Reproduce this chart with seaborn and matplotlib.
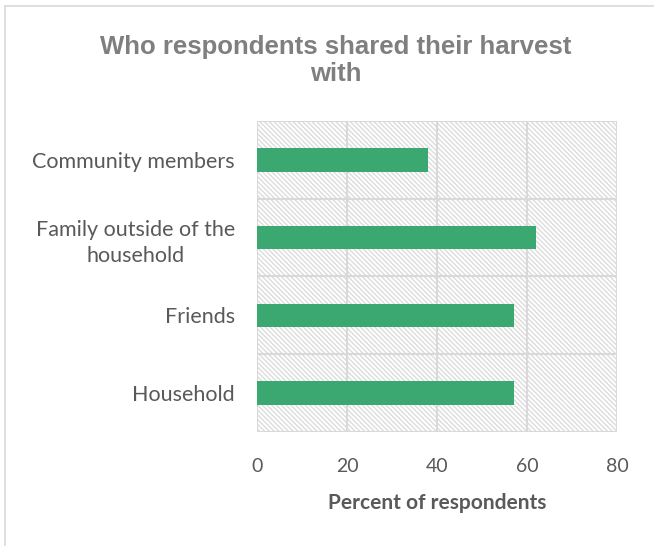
import matplotlib
matplotlib.use("Agg")
import matplotlib.pyplot as plt
from matplotlib.patches import Rectangle
import seaborn as sns
import pandas as pd

# datos
categorias = ["Community members", "Family outside of the\nhousehold", "Friends", "Household"]
porcentajes = [38, 62, 57, 57]
ticks_x = [0, 20, 40, 60, 80]

df = pd.DataFrame({"categoria": categorias, "porcentaje": porcentajes})

sns.set_style("white")
plt.rcParams['font.family'] = ['Lato', 'DejaVu Sans']
plt.rcParams['hatch.linewidth'] = 1.0

color_barra = '#3aa870'
color_texto = '#595959'
color_grid = '#d9d9d9'

fig = plt.figure(figsize=(6.54, 5.46), dpi=100)
ax = fig.add_axes([0.393, 0.2088, 0.5505, 0.5696])

# fondo rayado
fondo = Rectangle((0, 0), 1, 1, transform=ax.transAxes, facecolor='white',
                  edgecolor='#dcdcdc', hatch='\\' * 7, linewidth=0, zorder=0)
ax.add_patch(fondo)

sns.barplot(data=df, x='porcentaje', y='categoria', orient='h', color=color_barra,
            width=0.3, saturation=1, linewidth=0, ax=ax, zorder=3)

ax.set_xlim(0, 80)
ax.set_ylim(3.5, -0.5)
ax.set_xticks(ticks_x)
ax.set_yticks(range(len(categorias)))
ax.set_yticklabels(categorias, multialignment='center', linespacing=1.4)
ax.set_yticks([-0.5, 0.5, 1.5, 2.5, 3.5], minor=True)

ax.grid(axis='x', color=color_grid, linewidth=1.5, zorder=1)
ax.grid(axis='y', which='minor', color=color_grid, linewidth=1.5, zorder=1)
ax.set_axisbelow(True)
for s in ax.spines.values():
    s.set_visible(False)

ax.tick_params(axis='y', which='major', length=0, pad=16, labelsize=15.5, labelcolor=color_texto)
ax.tick_params(axis='y', which='minor', length=5, width=1.5, color=color_grid)
ax.tick_params(axis='x', length=0, pad=19, labelsize=14, labelcolor=color_texto)

ax.set_ylabel('')
ax.set_xlabel('Percent of respondents', fontsize=15, fontweight='bold', color=color_texto, labelpad=13)

fig.suptitle('Who respondents shared their harvest\nwith', fontsize=18.5, fontweight='bold',
             color='#7f7f7f', x=0.514, y=0.935, linespacing=1.15,
             family=['Liberation Sans Narrow', 'Liberation Sans', 'DejaVu Sans'])

# borde del gráfico
borde = Rectangle((0.008, -0.1), 1.1, 1.089, transform=fig.transFigure, fill=False,
                  edgecolor='#d9d9d9', linewidth=1.2)
fig.patches.append(borde)

fig.savefig('out.png', dpi=100)
